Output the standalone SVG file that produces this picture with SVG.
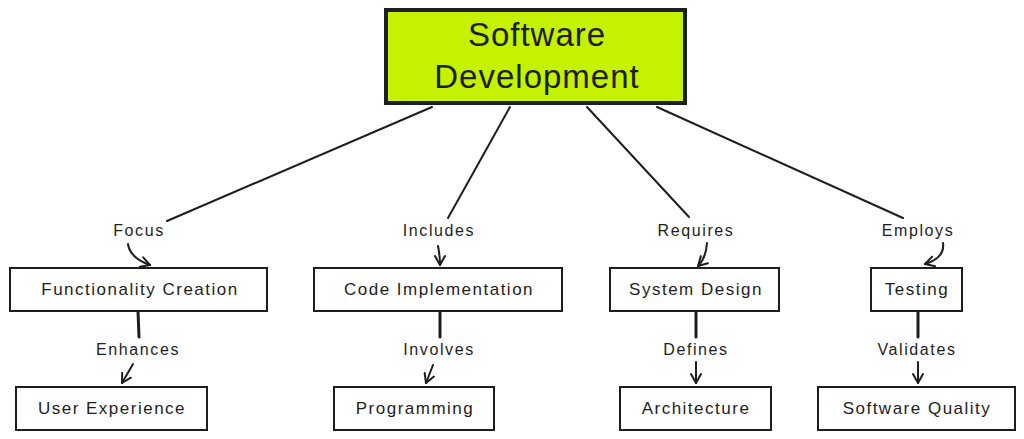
<svg xmlns="http://www.w3.org/2000/svg" width="1024" height="439" viewBox="0 0 1024 439">
<style>
.box{fill:#ffffff;stroke:#1e1e1e;stroke-width:2}
.root{fill:#c4f200;stroke:#1e1e1e;stroke-width:4}
.t{font-family:"Liberation Sans",Arial,sans-serif;font-size:17px;letter-spacing:1.5px;fill:#1e1e1e;text-anchor:middle}
.rt{font-family:"Liberation Sans",Arial,sans-serif;font-size:33px;letter-spacing:1px;fill:#1e1e1e;text-anchor:middle}
.lbl{font-family:"Liberation Sans",Arial,sans-serif;font-size:16px;letter-spacing:1.6px;fill:#1e1e1e;text-anchor:middle}
.ln{fill:none;stroke:#1e1e1e;stroke-width:2;stroke-linecap:round}
.lnb{fill:none;stroke:#1e1e1e;stroke-width:3;stroke-linecap:round}
.ar{fill:none;stroke:#1e1e1e;stroke-width:2;stroke-linecap:round;marker-end:url(#arr)}
</style>
<defs>
<marker id="arr" viewBox="0 0 12 12" refX="10" refY="6" markerWidth="12" markerHeight="12" markerUnits="userSpaceOnUse" orient="auto">
<path d="M1,1 L10,6 L1,11" fill="none" stroke="#1e1e1e" stroke-width="2" stroke-linecap="round" stroke-linejoin="round"/>
</marker>
</defs>
<rect width="1024" height="439" fill="#ffffff"/>
<g id="connectors">
<line class="ln" x1="432" y1="107" x2="167" y2="221"/>
<line class="ln" x1="510" y1="107" x2="448" y2="218"/>
<line class="ln" x1="587" y1="107" x2="689" y2="217"/>
<line class="ln" x1="657" y1="107" x2="903" y2="218"/>
<path class="ar" d="M128,244 Q130,258 150,265"/>
<path class="ar" d="M438,246 Q440,256 440,265"/>
<path class="ar" d="M707,243 Q706,258 698,266"/>
<path class="ar" d="M943,243 Q945,258 925,264"/>
<line class="lnb" x1="138" y1="311" x2="139" y2="337"/>
<line class="lnb" x1="440" y1="311" x2="440" y2="337"/>
<line class="lnb" x1="696" y1="311" x2="696" y2="337"/>
<line class="lnb" x1="918" y1="311" x2="918" y2="337"/>
<path class="ar" d="M133,364 L122,383"/>
<path class="ar" d="M433,365 L426,383"/>
<path class="ar" d="M696,362 L696,383"/>
<path class="ar" d="M918,362 L918,383"/>
<text class="lbl" x="139" y="236">Focus</text>
<text class="lbl" x="439" y="236">Includes</text>
<text class="lbl" x="696" y="236">Requires</text>
<text class="lbl" x="918" y="236">Employs</text>
<text class="lbl" x="138" y="355">Enhances</text>
<text class="lbl" x="439" y="355">Involves</text>
<text class="lbl" x="696" y="355">Defines</text>
<text class="lbl" x="917" y="355">Validates</text>
</g>
<g id="root">
<rect class="root" x="386" y="10" width="299" height="93"/>
<text class="rt" x="537" y="46">Software</text>
<text class="rt" x="537" y="88">Development</text>
</g>
<g id="functionality-creation">
<rect class="box" x="10" y="268" width="257" height="43"/>
<text class="t" x="140" y="295">Functionality Creation</text>
</g>
<g id="code-implementation">
<rect class="box" x="314" y="268" width="248" height="43"/>
<text class="t" x="439" y="295">Code Implementation</text>
</g>
<g id="system-design">
<rect class="box" x="610" y="268" width="169" height="43"/>
<text class="t" x="696" y="295">System Design</text>
</g>
<g id="testing">
<rect class="box" x="871" y="268" width="91" height="43"/>
<text class="t" x="917" y="295">Testing</text>
</g>
<g id="user-experience">
<rect class="box" x="16" y="387" width="191" height="43"/>
<text class="t" x="112" y="414">User Experience</text>
</g>
<g id="programming">
<rect class="box" x="334" y="387" width="160" height="43"/>
<text class="t" x="415" y="414">Programming</text>
</g>
<g id="architecture">
<rect class="box" x="620" y="387" width="151" height="43"/>
<text class="t" x="696" y="414">Architecture</text>
</g>
<g id="software-quality">
<rect class="box" x="818" y="387" width="197" height="43"/>
<text class="t" x="917" y="414">Software Quality</text>
</g>
</svg>
